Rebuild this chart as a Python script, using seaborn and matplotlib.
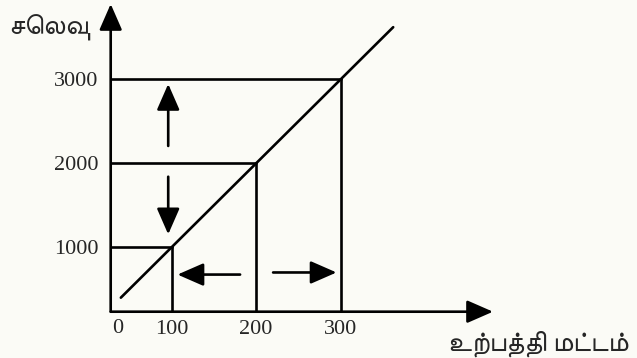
#!/usr/bin/env python3
"""Cost vs production level sketch (Tamil textbook figure)."""

import matplotlib
matplotlib.use("Agg")
import matplotlib.pyplot as plt
import pandas as pd
import seaborn as sns
from matplotlib import font_manager
from matplotlib.ft2font import FT2Font

# production levels and the matching cost levels
OUTPUT_LEVELS = [100, 200, 300]
COST_LEVELS = [1000, 2000, 3000]
# ends of the drawn cost line
LINE_OUTPUT = [40, 362]
LINE_COST = [400, 3620]
X_TICK_LABELS = ["100", "200", "300"]
Y_TICK_LABELS = ["1000", "2000", "3000"]
Y_TITLE = "செலவு"
X_TITLE = "உற்பத்தி மட்டம்"

BG = "#fbfbf6"


def tamil_family():
    installed = {f.name for f in font_manager.fontManager.ttflist}
    if "FreeSans" in installed:
        return ["FreeSans", "DejaVu Sans"]
    for f in font_manager.fontManager.ttflist:
        try:
            if 0x0B9A in FT2Font(f.fname).get_charmap():
                return [f.name, "DejaVu Sans"]
        except Exception:
            pass
    return ["DejaVu Sans"]


def main():
    sns.set_style("white")
    fams = tamil_family()
    plt.rcParams["font.family"] = ["Liberation Serif", "DejaVu Serif"]

    fig = plt.figure(figsize=(6.37, 3.58), dpi=100, facecolor=BG)
    # axis origin sits at (28, 233) in data units, arrow tips at (480, 3896)
    x0, x1, y0, y1 = 28, 480, 233, 3896
    ax = fig.add_axes([110.7 / 637, 1 - 311.7 / 358, (493 - 110.7) / 637, (311.7 - 4) / 358])
    ax.set_facecolor(BG)
    ax.set_xlim(x0, x1)
    ax.set_ylim(y0, y1)
    for s in ax.spines.values():
        s.set_visible(False)

    lw = 1.9
    head = dict(arrowstyle="-|>,head_length=1.6,head_width=0.7", mutation_scale=10,
                color="black", lw=lw, shrinkA=0, shrinkB=0)

    # axes as arrows
    ax.annotate("", xy=(x1, y0), xytext=(x0, y0), arrowprops=head, annotation_clip=False)
    ax.annotate("", xy=(x0, y1), xytext=(x0, y0), arrowprops=head, annotation_clip=False)

    # cost line
    df = pd.DataFrame({"output": LINE_OUTPUT, "cost": LINE_COST})
    sns.lineplot(data=df, x="output", y="cost", ax=ax, color="black", lw=lw)

    # guide lines
    for q, c in zip(OUTPUT_LEVELS, COST_LEVELS):
        ax.plot([x0, q], [c, c], color="black", lw=lw)
        ax.plot([q, q], [y0, c], color="black", lw=lw)

    # direction arrows
    ax.annotate("", xy=(96, 2944), xytext=(96, 2206), arrowprops=head)
    ax.annotate("", xy=(96, 1154), xytext=(96, 1840), arrowprops=head)
    ax.annotate("", xy=(107, 675), xytext=(181, 675), arrowprops=head)
    ax.annotate("", xy=(295, 700), xytext=(220, 700), arrowprops=head)

    ax.set_xticks(OUTPUT_LEVELS, X_TICK_LABELS)
    ax.set_yticks(COST_LEVELS, Y_TICK_LABELS)
    ax.tick_params(axis="x", length=0, pad=6, labelsize=16)
    ax.tick_params(axis="y", length=0, pad=9, labelsize=16)
    ax.set_xlabel("")
    ax.set_ylabel("")
    ax.text(36.6, y0 - 90, "0", ha="center", va="top", fontsize=16)

    fig.text(8 / 637, 1 - 28 / 358, Y_TITLE, ha="left", va="center", fontsize=20, family=fams)
    fig.text(628 / 637, 1 - 344 / 358, X_TITLE, ha="right", va="center", fontsize=20, family=fams)

    fig.savefig("out.png", dpi=100, facecolor=BG)


if __name__ == "__main__":
    main()
